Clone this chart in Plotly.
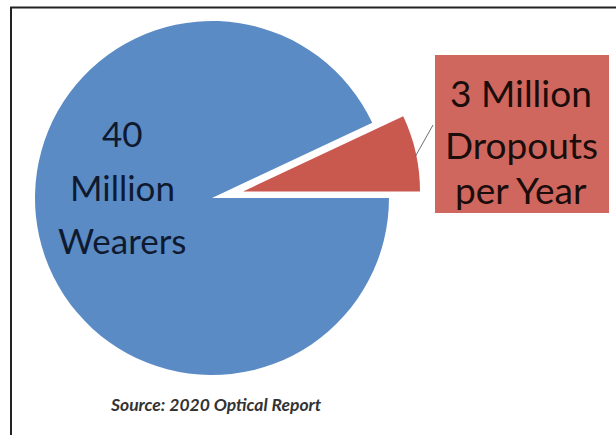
import plotly.graph_objects as go

# Segment data (millions of people)
segments = ["Wearers", "Dropouts per Year"]
values = [40, 3]
source_note = "Source: 2020 Optical Report"

W, H = 616, 435
BLUE = "#5B8BC5"
RED = "#C9584F"
BOX = "#D0675E"
CLEAR = "rgba(0,0,0,0)"
FONT = "Lato"


def px_x(x):
    return x / W


def px_y(y):
    return 1 - y / H


def domain(cx, cy, r):
    return dict(x=[px_x(cx - r), px_x(cx + r)], y=[px_y(cy + r), px_y(cy - r)])


R = 177
common = dict(
    labels=segments,
    values=values,
    sort=False,
    direction="clockwise",
    rotation=90,
    textinfo="none",
    hoverinfo="label+value",
    showlegend=False,
)

fig = go.Figure()
# main body: wearers slice
fig.add_trace(go.Pie(
    **common,
    domain=domain(212, 198, R),
    marker=dict(colors=[BLUE, CLEAR], line=dict(width=0)),
))
# exploded slice: dropouts, offset along its bisector
fig.add_trace(go.Pie(
    **common,
    domain=domain(243, 191.5, R),
    marker=dict(colors=[CLEAR, RED], line=dict(width=0)),
))

shapes = [
    # frame
    dict(type="line", xref="paper", yref="paper", x0=px_x(10), x1=1.0,
         y0=px_y(7.5), y1=px_y(7.5), line=dict(color="#222", width=2)),
    dict(type="line", xref="paper", yref="paper", x0=px_x(11), x1=px_x(11),
         y0=px_y(7), y1=0, line=dict(color="#222", width=2)),
    # callout box
    dict(type="rect", xref="paper", yref="paper", x0=px_x(435), x1=px_x(609),
         y0=px_y(213), y1=px_y(55), fillcolor=BOX, line=dict(width=0), layer="below"),
    # leader line
    dict(type="line", xref="paper", yref="paper", x0=px_x(415), x1=px_x(433),
         y0=px_y(157), y1=px_y(125), line=dict(color="#6f6f6f", width=1)),
]


def text_line(txt, x, y, size, color, **extra):
    return dict(text=txt, x=px_x(x), y=px_y(y), xref="paper", yref="paper",
                xanchor="center", yanchor="middle", showarrow=False,
                font=dict(family=FONT, size=size, color=color, **extra))


wearer_lines = [str(values[0]), "Million", segments[0]]
dropout_lines = [f"{values[1]} Million", "Dropouts", "per Year"]

annotations = []
for txt, y in zip(wearer_lines, [133, 187, 240]):
    annotations.append(text_line(txt, 122, y, 35, "#0f1a30"))
for txt, y in zip(dropout_lines, [92, 144, 189]):
    annotations.append(text_line(txt, 521, y, 37, "#1a0d0b"))
annotations.append(text_line(f"<b><i>{source_note}</i></b>", 216, 404, 17.5, "#333333"))

fig.update_layout(
    width=W, height=H,
    margin=dict(l=0, r=0, t=0, b=0),
    paper_bgcolor="white", plot_bgcolor="white",
    shapes=shapes, annotations=annotations,
)

fig.write_html("out.html")
